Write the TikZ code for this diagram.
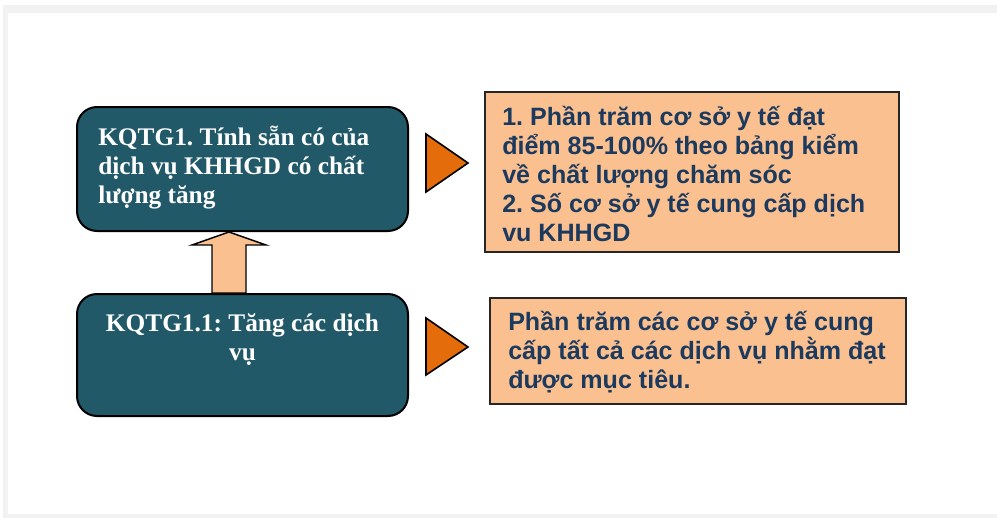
\documentclass[tikz,border=0pt]{standalone}
\usepackage{fontspec}
\setmainfont{Liberation Serif}
\newfontfamily\labelsans{Liberation Sans}
\usetikzlibrary{fit,calc}
\frenchspacing
\definecolor{teal}{HTML}{215968}
\definecolor{peach}{HTML}{FAC090}
\definecolor{pointer}{HTML}{E46C0A}
\definecolor{navy}{HTML}{1B3A5E}
\definecolor{frame}{HTML}{F2F2F2}
\tikzset{
  resultbox/.style={draw=black, line width=1.5pt, fill=teal, rounded corners=15pt, inner sep=0pt},
  indicatorbox/.style={draw=black!85, line width=1.6pt, fill=peach, inner sep=0pt},
  pointertri/.style={draw=black, line width=1.2pt, fill=pointer, line join=miter},
  uparrow/.style={draw=black, line width=1.1pt, fill=peach, line join=miter},
  resulttext/.style={anchor=base west, inner sep=0pt, text=white,
    font=\fontsize{19}{22}\selectfont\bfseries},
  indicatortext/.style={anchor=base west, inner sep=0pt, text=navy,
    font=\labelsans\fontsize{18.8}{21.75}\selectfont\bfseries},
}
\begin{document}
\begin{tikzpicture}[x=0.75pt,y=-0.75pt]
  \useasboundingbox (0,0) rectangle (997,518);
  % slide frame
  \fill[frame] (3,5) rectangle (997,518);
  \fill[white] (8,13) rectangle (997,514);

  % result boxes
  \node[resultbox, fit={(77,107) (408,231)}] (b1) {};
  \node[resultbox, fit={(77,294) (408,416)}] (b2) {};
  \node[resulttext] (t1) at (98,145) {\parbox[t]{300pt}{\raggedright
    KQTG1. Tính sẵn có của\\ dịch vụ KHHGD có chất\\ lượng tăng}};
  \node[resulttext, anchor=base] (t2) at (242.5,331) {\parbox[t]{300pt}{\centering
    KQTG1.1: Tăng các dịch\\ vụ}};

  % block arrow from the sub-result up to the result
  \draw[uparrow]
    ($(b2.north)+(-30.5,0)$) -- ($(b2.north)+(-30.5,-48)$) -- ($(b2.north)+(-50.5,-48)$)
    -- ($(b1.south)+(-13.5,0)$) -- ($(b2.north)+(23.5,-48)$) -- ($(b2.north)+(3.5,-48)$)
    -- ($(b2.north)+(3.5,0)$) -- cycle;

  % indicator boxes
  \node[indicatorbox, fit={(485,92) (899,252)}] (i1) {};
  \node[indicatorbox, fit={(490,298) (906,404)}] (i2) {};
  \node[indicatortext] (u1) at (502,125) {\parbox[t]{400pt}{\raggedright
    1. Phần trăm cơ sở y tế đạt\\ điểm 85-100\% theo bảng kiểm\\ về chất lượng chăm sóc\\
    2. Số cơ sở y tế cung cấp dịch\\ vu KHHGD}};
  \node[indicatortext] (u2) at (508,330) {\parbox[t]{400pt}{\raggedright
    Phần trăm các cơ sở y tế cung\\ cấp tất cả các dịch vụ nhằm đạt\\ được mục tiêu.}};

  % pointers
  \draw[pointertri] (426,134) -- (468,163) -- (426,192) -- cycle;
  \draw[pointertri] (426,318) -- (468,347) -- (426,375) -- cycle;
\end{tikzpicture}
\end{document}
